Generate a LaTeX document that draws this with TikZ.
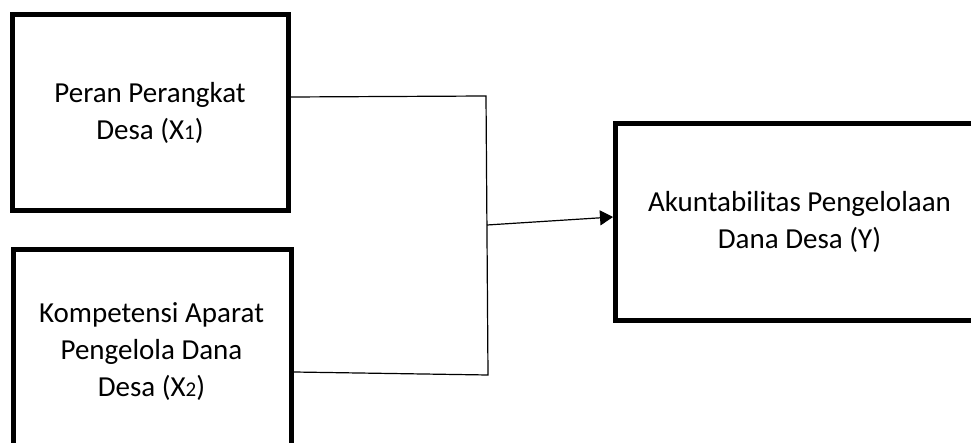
\documentclass[tikz,border=0pt]{standalone}
\usepackage{fontspec}
\setmainfont{Carlito}
\usetikzlibrary{arrows.meta,calc}

\tikzset{
    varbox/.style={draw, line width=5pt, rectangle, inner sep=0pt},
    vartext/.style={align=center, inner sep=0pt, font=\fontsize{29}{37}\selectfont},
    link/.style={line width=1.2pt}
}
\newcommand{\sub}[1]{{\fontsize{21}{21}\selectfont #1}}

\begin{document}
\begin{tikzpicture}[x=1pt, y=-1pt]
        \useasboundingbox (0,0) rectangle (971,443);
        \clip (0,0) rectangle (971,443);
        \node[varbox, minimum width=276pt, minimum height=196pt] (peran) at (150.5,112.5) {};
        \node[varbox, minimum width=278pt, minimum height=220.5pt] (kompetensi) at (152.5,359.75) {};
        \node[varbox, minimum width=374.5pt, minimum height=197pt] (akun) at (802.75,222) {};
        \node[vartext] (peranlabel) at (150,113) {Peran Perangkat\\Desa (X\sub{1})};
        \node[vartext] (kompetensilabel) at (151.5,351.5) {Kompetensi Aparat\\Pengelola Dana\\Desa (X\sub{2})};
        \node[vartext] (akunlabel) at (799.5,222) {Akuntabilitas Pengelolaan\\Dana Desa (Y)};
        \coordinate (jtop) at (486,96);
        \coordinate (jmid) at (487,225);
        \coordinate (jbot) at (488,375);
        \draw[link] ($(peran.east)+(0,-15.5)$) -- (jtop) -- (jbot) -- ($(kompetensi.east)+(0,12.25)$);
        \draw[link, -{Triangle[length=13pt,width=15pt]}] (jmid) -- ($(akun.west)+(0,-5)$);
    \end{tikzpicture}
\end{document}
